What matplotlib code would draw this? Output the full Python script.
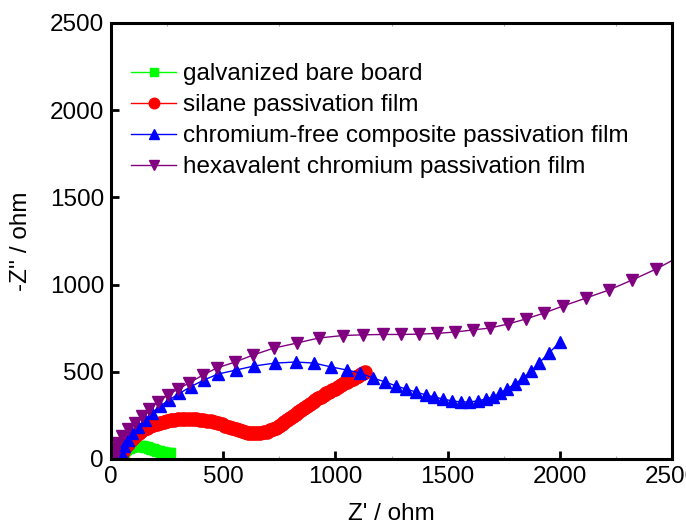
import matplotlib
matplotlib.use('Agg')
import matplotlib.pyplot as plt
from matplotlib.ticker import MultipleLocator

plt.rcParams['font.family'] = ['Liberation Sans', 'DejaVu Sans']

# Nyquist data, Z' and -Z'' in ohm
bare_re = [35, 40, 45, 50, 56, 62, 68, 75, 82, 90, 98, 106, 115, 124, 133, 142, 151, 160, 169, 178,
           187, 196, 205, 214, 223, 232, 241, 250, 258, 265]
bare_im = [2, 14, 25, 34, 42, 50, 56, 61, 65, 69, 72, 73, 74, 74, 74, 73, 71, 68, 64, 60,
           56, 52, 48, 44, 41, 38, 36, 35, 35, 35]

silane_re = [38, 43, 48, 54, 60, 67, 75, 83, 92, 102, 112, 123, 135, 147, 160, 174, 188, 203, 218, 234,
             250, 266, 282, 298, 315, 331, 348, 364, 380, 396, 412, 428, 445, 461, 478, 494, 510, 525,
             540, 555, 570, 584, 598, 612, 625, 638, 652, 666, 680, 694, 708, 721, 735, 748, 760, 772,
             785, 798, 810, 823, 835, 848, 860, 873, 885, 898, 910, 922, 935, 948, 960, 973, 985, 998,
             1010, 1024, 1038, 1052, 1065, 1078, 1090, 1101, 1112, 1122, 1132]
silane_im = [5, 18, 32, 46, 60, 74, 88, 102, 115, 128, 140, 151, 162, 171, 180, 188, 195, 202, 208, 213,
             218, 222, 225, 227, 229, 230, 230, 229, 228, 226, 223, 219, 215, 210, 205, 199, 192, 185,
             178, 172, 165, 159, 154, 151, 148, 147, 147, 149, 152, 157, 164, 171, 180, 190, 200, 211,
             222, 233, 245, 256, 268, 280, 292, 304, 316, 327, 338, 348, 358, 367, 376, 385, 394, 403,
             412, 423, 434, 443, 452, 461, 470, 478, 486, 493, 499]

crfree_re = [32, 45, 58, 76, 94, 120, 152, 183, 218, 258, 305, 356, 414, 477, 557, 637, 731, 824, 905, 980,
             1052, 1110, 1168, 1221, 1270, 1315, 1359, 1404, 1439, 1480, 1520, 1560, 1595, 1635, 1671, 1702,
             1734, 1765, 1800, 1836, 1872, 1907, 1952, 2001]
crfree_im = [5, 40, 75, 109, 149, 183, 224, 264, 302, 338, 376, 415, 453, 487, 510, 533, 550, 556, 550, 528,
             510, 493, 464, 442, 419, 401, 384, 367, 356, 344, 333, 327, 327, 333, 344, 356,
             378, 401, 430, 464, 505, 550, 608, 671]

cr6_re = [12, 15, 20, 27, 49, 76, 107, 138, 169, 209, 254, 299, 348, 410, 472, 553, 633, 726, 829, 927,
          1034, 1123, 1212, 1292, 1373, 1453, 1533, 1613, 1689, 1769, 1849, 1930, 2014, 2117, 2219, 2322,
          2429, 2540]
cr6_im = [5, 30, 60, 92, 132, 172, 206, 247, 287, 327, 367, 401, 436, 482, 522, 556, 596, 636, 665, 694,
          708, 712, 714, 714, 716, 720, 728, 740, 751, 774, 803, 837, 877, 923, 969, 1026,
          1089, 1165]

labels = ['galvanized bare board', 'silane passivation film',
          'chromium-free composite passivation film', 'hexavalent chromium passivation film']

fig = plt.figure(figsize=(6.86, 5.26), dpi=100)
ax = fig.add_axes([0.1618, 0.1274, 0.8178, 0.8289])

ax.plot(bare_re, bare_im, '-s', color='#00ff00', lw=1, ms=7, label=labels[0])
ax.plot(silane_re, silane_im, '-o', color='#ff0000', lw=1, ms=9.5, label=labels[1])
ax.plot(crfree_re, crfree_im, '-^', color='#0000ff', lw=1, ms=9, label=labels[2])
ax.plot(cr6_re, cr6_im, '-v', color='#800080', lw=1, ms=9, label=labels[3])

ax.set_xlim(0, 2500)
ax.set_ylim(0, 2500)
ax.xaxis.set_major_locator(MultipleLocator(500))
ax.xaxis.set_minor_locator(MultipleLocator(250))
ax.yaxis.set_major_locator(MultipleLocator(500))

for s in ax.spines.values():
    s.set_linewidth(2.2)

ax.tick_params(axis='both', which='major', direction='in', length=6, width=2, labelsize=17.5, pad=5)
ax.tick_params(axis='x', which='minor', direction='in', length=2, width=0.8, color='#aaaaaa', top=True)

ax.set_xlabel("Z' / ohm", fontsize=17.5)
ax.set_ylabel("-Z'' / ohm", fontsize=17.5)
ax.xaxis.set_label_coords(0.5, -0.101)
ax.yaxis.set_label_coords(-0.141, 0.5)

ax.legend(loc='upper left', bbox_to_anchor=(0.0357, 0.908), frameon=False, fontsize=17.5,
          borderpad=0, borderaxespad=0, handlelength=1.85, handletextpad=0.29,
          labelspacing=0.37, numpoints=1, markerscale=0.8)

fig.savefig('out.png', dpi=100)
